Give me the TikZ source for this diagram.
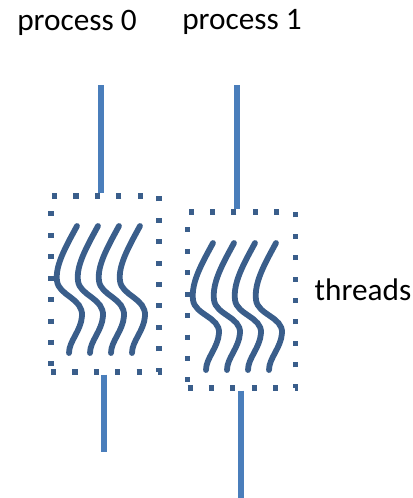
\documentclass[tikz,border=0pt]{standalone}
\usepackage{fontspec}
\setmainfont{Carlito}
\usepackage{tikz}

\definecolor{procline}{HTML}{4A7EBB}
\definecolor{threadcol}{HTML}{3A5E8B}

\tikzset{
  label/.style={font=\fontsize{17.8}{20}\selectfont, inner sep=0pt, anchor=base},
  procbox/.style={draw=threadcol, line width=2.9pt, dash pattern=on 2.9pt off 9.3pt,
    minimum width=2.16cm, minimum height=3.52cm, inner sep=0pt},
  pline/.style={procline, line width=2.9pt},
  thread/.style={threadcol, line width=3.3pt, line cap=round}
}

\begin{document}
\begin{tikzpicture}[x=0.02cm, y=-0.02cm]
\useasboundingbox (0,0) rectangle (413,498);
% labels
\node[label] (lbl0) at (77,30) {process 0};
\node[label] (lbl1) at (242,29) {process 1};
\node[label] (lblthr) at (363,300) {threads};
% thread boxes
\node[procbox] (box0) at (105,284) {};
\node[procbox] (box1) at (241.5,300) {};
% process lines
\coordinate (p0top) at (101,85);
\coordinate (p0bot) at (104,452);
\coordinate (p1top) at (237,85);
\coordinate (p1bot) at (241,498);
\draw[pline] (p0top) -- (p0top |- box0.north);
\draw[pline] (p0bot |- box0.south) -- (p0bot);
\draw[pline] (p1top) -- (p1top |- box1.north);
\draw[pline] (p1bot |- box1.south) -- (p1bot);
% threads
\foreach \i in {0,...,3} {
  \draw[thread, shift={(77+21*\i,226)}] (0,0) .. controls (-12,22) and (-22,40) .. (-20,55)
    .. controls (-18,70) and (6,72) .. (5,90) .. controls (4,105) and (-8,115) .. (-8,127);
  \draw[thread, shift={(213+21*\i,243)}] (0,0) .. controls (-12,22) and (-22,40) .. (-20,57)
    .. controls (-18,72) and (7,74) .. (6,90) .. controls (5,105) and (-7,115) .. (-7,127);
}
\end{tikzpicture}
\end{document}
